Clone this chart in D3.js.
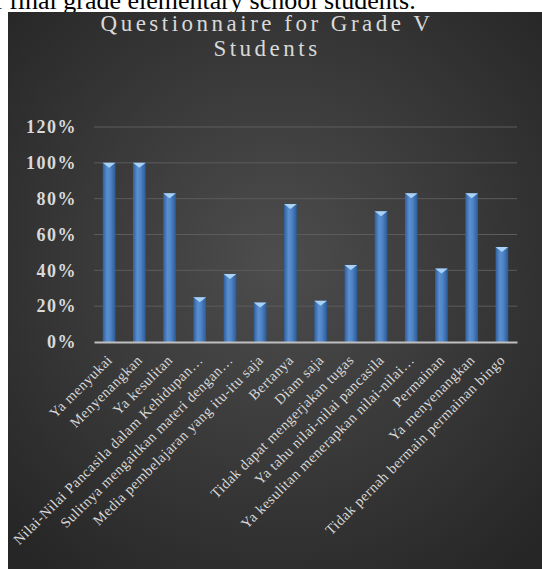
<!DOCTYPE html>
<html>
<head>
<meta charset="utf-8">
<script src="https://cdn.jsdelivr.net/npm/d3@7"></script>
<style>
  html, body { margin: 0; padding: 0; background: #ffffff; }
  svg { display: block; }
</style>
</head>
<body>
<div id="chart"></div>
<script>
const categories = [
  "Ya menyukai",
  "Menyenangkan",
  "Ya kesulitan",
  "Nilai-Nilai Pancasila dalam Kehidupan…",
  "Sulitnya mengaitkan materi dengan…",
  "Media pembelajaran yang itu-itu saja",
  "Bertanya",
  "Diam saja",
  "Tidak dapat mengerjakan tugas",
  "Ya tahu nilai-nilai pancasila",
  "Ya kesulitan menerapkan nilai-nilai…",
  "Permainan",
  "Ya menyenangkan",
  "Tidak pernah bermain permainan bingo"
];
const values = [100, 100, 83, 25, 38, 22, 77, 23, 43, 73, 83, 41, 83, 53];
const yTicks = [0, 20, 40, 60, 80, 100, 120];
const titleLines = ["Questionnaire for Grade V", "Students"];
const captionText = "of final grade elementary school students.";

(function () {
const W = 542, H = 569;
const svg = d3.select("#chart").append("svg").attr("width", W).attr("height", H);
const defs = svg.append("defs");

const bg = defs.append("radialGradient").attr("id", "bg")
  .attr("cx", "50%").attr("cy", "45%").attr("r", "70%");
bg.append("stop").attr("offset", "0%").attr("stop-color", "#4d4d4d");
bg.append("stop").attr("offset", "100%").attr("stop-color", "#262626");

const barGrad = defs.append("linearGradient").attr("id", "barGrad")
  .attr("x1", "0%").attr("x2", "100%").attr("y1", "0%").attr("y2", "0%");
barGrad.append("stop").attr("offset", "0%").attr("stop-color", "#2f5f9e");
barGrad.append("stop").attr("offset", "35%").attr("stop-color", "#5b8fd0");
barGrad.append("stop").attr("offset", "60%").attr("stop-color", "#4f84c6");
barGrad.append("stop").attr("offset", "100%").attr("stop-color", "#2c5a96");

svg.append("text")
  .attr("x", -19).attr("y", 9)
  .attr("font-family", "'Liberation Serif', 'Times New Roman', serif")
  .attr("font-size", 26)
  .attr("fill", "#000")
  .text(captionText);

svg.append("rect").attr("x", 8).attr("y", 12).attr("width", W - 8).attr("height", H - 12)
  .attr("fill", "url(#bg)");

const title = svg.append("text")
  .attr("text-anchor", "middle")
  .attr("font-family", "'Liberation Serif', 'Times New Roman', serif")
  .attr("font-size", 23)
  .attr("letter-spacing", 3.5)
  .attr("fill", "#d9d9d9");
titleLines.forEach((t, i) => {
  title.append("tspan").attr("x", 267).attr("y", 31 + i * 25).text(t);
});

const pLeft = 94, pRight = 517, pTop = 127, pBottom = 342;

const x = d3.scaleBand().domain(categories).range([pLeft, pRight])
  .paddingInner(0.58).paddingOuter(0.29);
const y = d3.scaleLinear().domain([0, 120]).range([pBottom, pTop]);

svg.append("g").selectAll("line").data(yTicks.filter(d => d > 0)).join("line")
  .attr("x1", pLeft).attr("x2", pRight)
  .attr("y1", d => y(d)).attr("y2", d => y(d))
  .attr("stroke", "#5c5c5c").attr("stroke-width", 1);

const yAxis = svg.append("g").attr("transform", `translate(${pLeft},0)`)
  .call(d3.axisLeft(y).tickValues(yTicks).tickSize(0).tickPadding(17).tickFormat(d => d + "%"));
yAxis.select(".domain").remove();
yAxis.selectAll("text")
  .attr("font-family", "'Liberation Serif', 'Times New Roman', serif")
  .attr("font-weight", "bold")
  .attr("font-size", 18)
  .attr("letter-spacing", 1.5)
  .attr("fill", "#d9d9d9");

const bw = x.bandwidth();
const bars = svg.append("g");
bars.selectAll("rect").data(values).join("rect")
  .attr("x", (d, i) => x(categories[i]))
  .attr("y", d => y(d))
  .attr("width", bw)
  .attr("height", d => pBottom - y(d))
  .attr("fill", "url(#barGrad)");
bars.selectAll("path").data(values).join("path")
  .attr("d", (d, i) => {
    const x0 = x(categories[i]), yt = y(d);
    return `M${x0},${yt}L${x0 + bw},${yt}L${x0 + bw / 2},${yt + 5}Z`;
  })
  .attr("fill", "#a9d2f7");

const xAxis = svg.append("g").attr("transform", `translate(0,${pBottom})`)
  .call(d3.axisBottom(x).tickSize(0).tickSizeOuter(0).tickPadding(0));
xAxis.select(".domain").attr("stroke", "#bfbfbf").attr("stroke-width", 2);
xAxis.selectAll("text")
  .attr("font-family", "'Liberation Serif', 'Times New Roman', serif")
  .attr("font-size", 14.5)
  .attr("letter-spacing", 0.5)
  .attr("fill", "#d9d9d9")
  .attr("text-anchor", "end")
  .attr("dy", 0)
  .attr("y", 0)
  .attr("transform", "translate(4,19) rotate(-45)");
})();
</script>
</body>
</html>
